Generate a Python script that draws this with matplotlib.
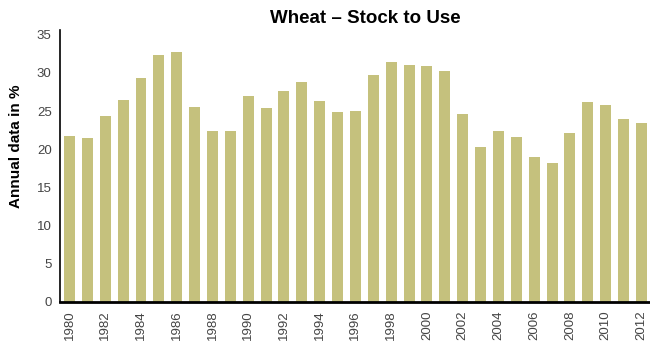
import matplotlib
matplotlib.use("Agg")
import matplotlib.pyplot as plt

plt.rcParams["font.family"] = ["Liberation Sans", "DejaVu Sans"]

years = list(range(1980, 2013))
stock_to_use = [21.7, 21.5, 24.3, 26.4, 29.3, 32.4, 32.8, 25.5, 22.4, 22.4,
                27.0, 25.4, 27.7, 28.8, 26.3, 24.9, 25.0, 29.7, 31.5, 31.0,
                30.9, 30.2, 24.6, 20.3, 22.4, 21.6, 19.0, 18.2, 22.1, 26.2,
                25.8, 24.0, 23.4]
y_ticks = [0, 5, 10, 15, 20, 25, 30, 35]

bar_color = "#C5C17D"
label_color = "#444444"

fig = plt.figure(figsize=(6.5, 3.41), dpi=100)
ax = fig.add_axes([0.0923, 0.1144, 0.9077, 0.797])

x = list(range(len(years)))
ax.bar(x, stock_to_use, width=0.61, color=bar_color)

ax.set_xlim(-0.53, len(years) - 0.52)
ax.set_ylim(0, 35.6)
ax.set_yticks(y_ticks)
ax.set_yticklabels([str(v) for v in y_ticks], fontsize=9.5, color=label_color)
ax.set_xticks(x[::2])
ax.set_xticklabels([str(y) for y in years[::2]], rotation=90, fontsize=9.5,
                   color=label_color)
ax.tick_params(length=0, pad=6)

for side in ["top", "right"]:
    ax.spines[side].set_visible(False)
ax.spines["left"].set_linewidth(1.2)
ax.spines["bottom"].set_linewidth(2)

ax.set_ylabel("Annual data in %", fontsize=11, fontweight="bold")
ax.yaxis.set_label_coords(-0.063, 0.574)
fig.text(0.562, 0.945, "Wheat – Stock to Use", ha="center", va="center",
         fontsize=13.5, fontweight="bold")

fig.savefig("out.png", dpi=100)
